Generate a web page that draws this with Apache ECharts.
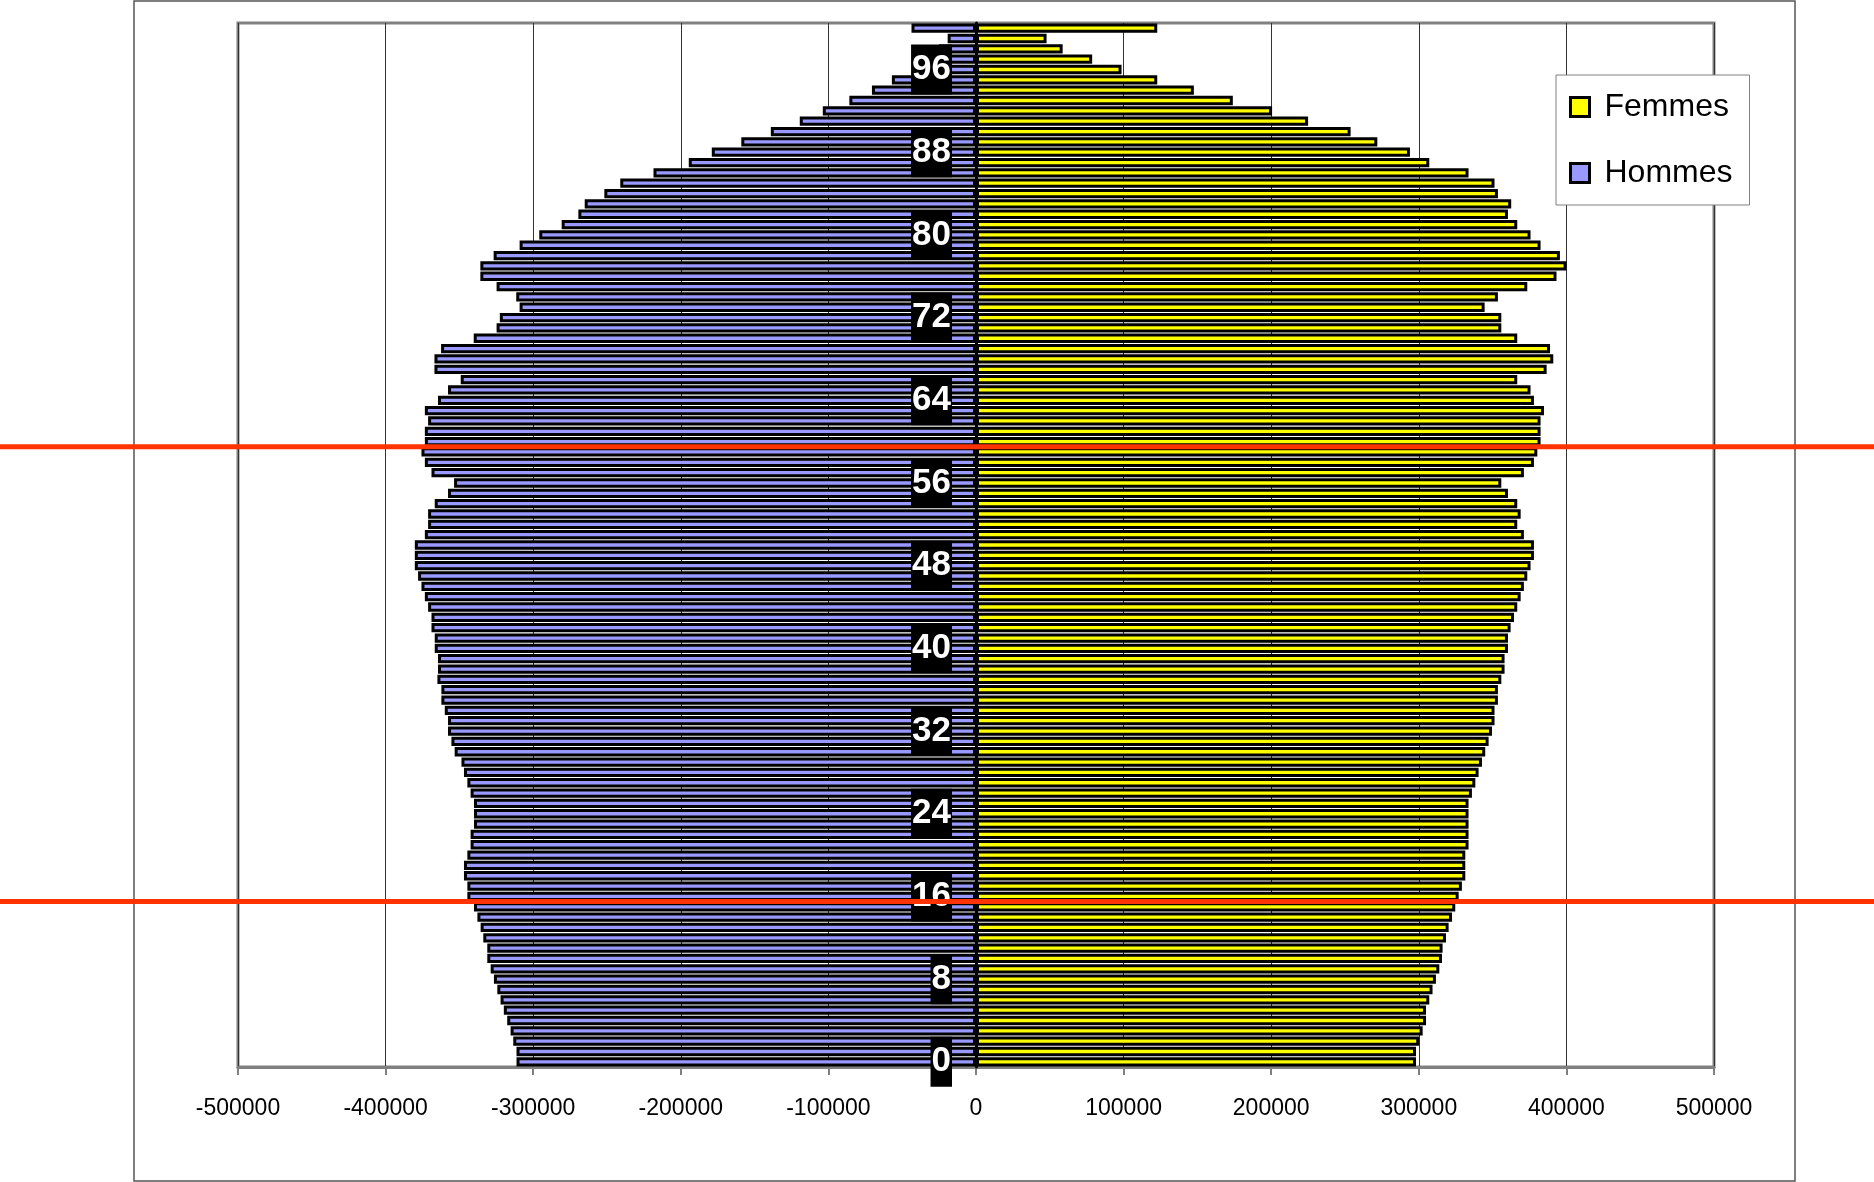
<!DOCTYPE html>
<html>
<head>
<meta charset="utf-8">
<script src="https://cdn.jsdelivr.net/npm/echarts@6/dist/echarts.min.js"></script>
<style>
  html, body { margin: 0; padding: 0; background: #fff; }
  #chart { width: 1874px; height: 1182px; }
</style>
</head>
<body>
<div id="chart"></div>
<script>
// Age categories 0 .. 100 (bottom to top)
const ages = [];
for (let a = 0; a <= 100; a++) ages.push(String(a));

// Population by single year of age, men (drawn to the left of zero)
const hommes = [
  311300, 311300, 313500, 315300, 317600, 319900, 322100, 324300, 326600, 328800, // 0-9
  331100, 331100, 333800, 335600, 337800, 340100, 344600, 344600, 346900, 346900, // 10-19
  344600, 342400, 342400, 340100, 340100, 340100, 342400, 344600, 346900, 348600, // 20-29
  353200, 355400, 357700, 357700, 359900, 362200, 362200, 364900, 364500, 364500, // 30-39
  366700, 366700, 368900, 368900, 371200, 373400, 375700, 378000, 380200, 380200, // 40-49
  380200, 373400, 371200, 371200, 366700, 357700, 353600, 368900, 373400, 375700, // 50-59
  373400, 373400, 371200, 373400, 364500, 357700, 349100, 366900, 366900, 362400, // 60-69
  340300, 324800, 322600, 309200, 311500, 324800, 335800, 335800, 326800, 309200, // 70-79
  295900, 280700, 269400, 265100, 251800, 241000, 218500, 194600, 179000, 159000, // 80-89
  139000, 119400, 103800, 85800, 70500, 57000, 41000, 32000, 25000, 19200,        // 90-99
  43700                                                                           // 100+
];

// Population by single year of age, women (drawn to the right of zero)
const femmes = [
  298100, 298100, 300300, 302600, 304900, 304900, 307100, 309300, 311600, 313900, // 0-9
  315700, 316100, 318400, 320200, 322500, 324700, 327000, 329200, 331500, 331500, // 10-19
  331500, 333700, 333700, 333700, 333700, 333700, 336000, 338300, 340500, 342800, // 20-29
  345000, 347300, 349600, 351300, 351300, 353600, 353600, 355900, 358100, 358100, // 30-39
  360400, 360400, 362200, 364500, 366700, 369000, 371200, 373500, 375700, 378000, // 40-49
  378000, 371200, 366700, 369000, 366700, 360400, 355900, 371200, 378000, 380300, // 50-59
  382500, 382500, 382500, 384800, 378000, 375700, 366700, 386600, 391100, 388900, // 60-69
  366700, 355900, 355900, 344600, 353600, 373500, 393300, 400100, 395600, 382500, // 70-79
  375700, 366700, 360400, 362600, 353600, 351300, 333700, 307100, 294000, 271900, // 80-89
  253800, 225000, 200600, 174000, 147600, 122800, 98600, 78700, 58700, 47800,     // 90-99
  122800                                                                          // 100+
];

// Age boundaries marked with a horizontal rule (between the two listed ages)
const markedBounds = [[15, 16], [59, 60]];

const GRID_LEFT = 238;

const chart = echarts.init(document.getElementById('chart'), null, { renderer: 'canvas' });

const option = {
  animation: false,
  backgroundColor: '#ffffff',
  grid: {
    left: GRID_LEFT, right: 160, top: 23, bottom: 115,
    show: true, borderColor: '#808080', borderWidth: 3,
    backgroundColor: 'transparent'
  },
  legend: {
    orient: 'vertical',
    left: 1556, top: 75,
    padding: [14, 17, 14, 13],
    itemGap: 30,
    itemWidth: 19, itemHeight: 19,
    icon: 'rect',
    backgroundColor: '#ffffff',
    borderColor: '#808080', borderWidth: 1,
    itemStyle: { borderColor: '#000', borderWidth: 3 },
    textStyle: {
      fontSize: 32, lineHeight: 36, color: '#000',
      fontFamily: '"Liberation Sans", Arial, sans-serif',
      padding: [0, 0, 0, 10]
    },
    data: ['Femmes', 'Hommes']
  },
  xAxis: {
    type: 'value',
    min: -500000, max: 500000, interval: 100000,
    axisLine: { show: true, lineStyle: { color: '#808080', width: 3 } },
    axisTick: { show: true, length: 8, lineStyle: { color: '#808080', width: 2 } },
    axisLabel: {
      formatter: v => String(v),
      fontSize: 23, color: '#000', margin: 30,
      fontFamily: '"Liberation Sans", Arial, sans-serif'
    },
    splitLine: { show: true, lineStyle: { color: '#333', width: 1 } }
  },
  yAxis: {
    type: 'category',
    data: ages,
    z: 5,
    axisLine: { show: true, onZero: false, lineStyle: { color: '#000', width: 3 } },
    axisTick: { show: false },
    axisLabel: {
      interval: 7,
      color: '#fff', fontWeight: 'bold', fontSize: 35, lineHeight: 37,
      fontFamily: '"Liberation Sans", Arial, sans-serif',
      backgroundColor: '#000',
      padding: [7, 1, 6, 1],
      margin: 24
    },
    splitLine: { show: false }
  },
  series: [
    {
      name: 'Femmes', type: 'bar', data: femmes,
      barWidth: 9.3, barGap: '-100%',
      itemStyle: { color: '#ffff00', borderColor: '#000', borderWidth: 3 }
    },
    {
      name: 'Hommes', type: 'bar', data: hommes.map(v => -v),
      barWidth: 9.3, barGap: '-100%',
      itemStyle: { color: '#9999ff', borderColor: '#000', borderWidth: 3 }
    }
  ]
};

chart.setOption(option);

// Move the age axis onto the zero of the population axis
const zeroX = chart.convertToPixel({ xAxisIndex: 0 }, 0);
chart.setOption({ yAxis: { offset: -(zeroX - GRID_LEFT) } });

// Outer frame and the age-boundary rules, placed through the category axis
const yOf = a => chart.convertToPixel({ yAxisIndex: 0 }, String(a));
const rules = markedBounds.map(([a, b]) => {
  const y = (yOf(a) + yOf(b)) / 2;
  return {
    type: 'line', z: 100,
    shape: { x1: 0, y1: y, x2: 1874, y2: y },
    style: { stroke: '#ff3300', lineWidth: 5 }
  };
});
chart.setOption({
  graphic: [
    {
      type: 'rect', z: -1,
      shape: { x: 134, y: 1, width: 1661, height: 1180 },
      style: { fill: null, stroke: '#555', lineWidth: 1.5 }
    },
    ...rules
  ]
});
</script>
</body>
</html>
